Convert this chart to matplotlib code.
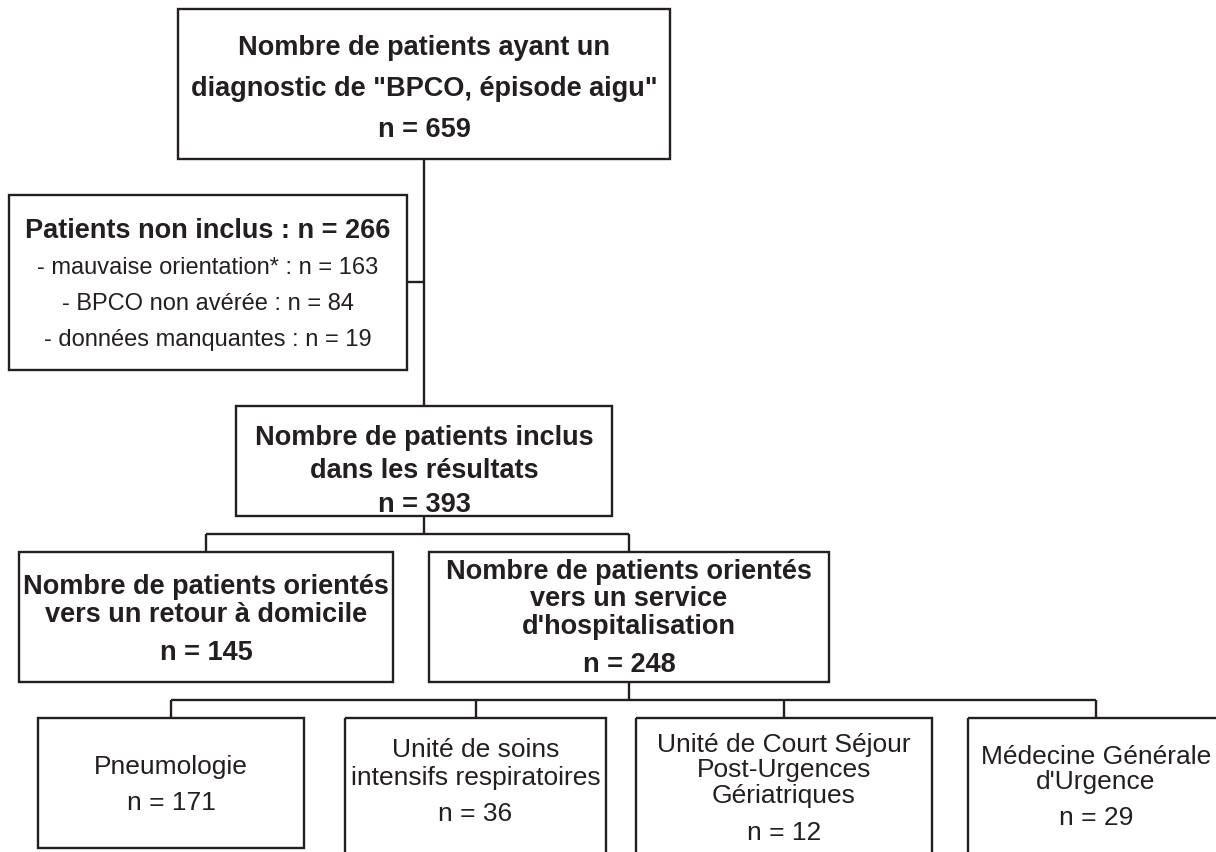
import matplotlib
matplotlib.use("Agg")
import matplotlib.pyplot as plt
from matplotlib.patches import Rectangle

plt.rcParams['font.family'] = ['Liberation Sans', 'DejaVu Sans']

# ---------------- data ----------------
total_lines = ['Nombre de patients ayant un', 'diagnostic de "BPCO, épisode aigu"']
total_n = 659
excluded_title = 'Patients non inclus'
excluded_n = 266
excluded_reasons = ['mauvaise orientation*', 'BPCO non avérée', 'données manquantes']
excluded_counts = [163, 84, 19]
included_lines = ['Nombre de patients inclus', 'dans les résultats']
included_n = 393
orientation_lines = [['Nombre de patients orientés', 'vers un retour à domicile'],
                     ['Nombre de patients orientés', 'vers un service', "d'hospitalisation"]]
orientation_n = [145, 248]
service_lines = [['Pneumologie'],
                 ['Unité de soins', 'intensifs respiratoires'],
                 ['Unité de Court Séjour', 'Post-Urgences', 'Gériatriques'],
                 ['Médecine Générale', "d'Urgence"]]
service_n = [171, 36, 12, 29]

# ---------------- layout (pixels) ----------------
W, H = 1216, 853
fig = plt.figure(figsize=(W / 100, H / 100), dpi=100)
ax = fig.add_axes([0, 0, 1, 1])
ax.set_xlim(0, W)
ax.set_ylim(H, 0)
ax.axis('off')

LW = 1.7
COL = '#231f20'


def box(x0, y0, x1, y1):
    ax.add_patch(Rectangle((x0, y0), x1 - x0, y1 - y0, fill=False,
                           lw=LW, ec=COL, joinstyle='miter', clip_on=False))


def line(xs, ys):
    ax.plot(xs, ys, color=COL, lw=LW, solid_capstyle='butt')


def txt(x, y, s, size, bold=False):
    ax.text(x, y, s, ha='center', va='center', fontsize=size,
            fontweight='bold' if bold else 'normal', color=COL)


BIG = 19.5
MID = 17
SMALL = 19

# Box 1
b1 = (178, 10, 670, 160)
box(*b1)
cx1 = (b1[0] + b1[2]) / 2
for s, y in zip(total_lines + [f'n = {total_n}'], [48, 89, 130]):
    txt(cx1, y, s, BIG, bold=True)

# Box 2 (excluded)
b2 = (9, 196, 407, 371)
box(*b2)
cx2 = (b2[0] + b2[2]) / 2
txt(cx2, 231, f'{excluded_title} : n = {excluded_n}', BIG, bold=True)
for r, c, y in zip(excluded_reasons, excluded_counts, [268, 304, 340]):
    txt(cx2, y, f'- {r} : n = {c}', MID)

# main vertical
xm = 424
b3 = (236, 407, 612, 517)
line([xm, xm], [b1[3], b3[1]])
line([b2[2], xm], [283, 283])

# Box 3
box(*b3)
for s, y in zip(included_lines + [f'n = {included_n}'], [438, 471, 505]):
    txt(xm, y, s, BIG, bold=True)

# split to orientation boxes
b4 = (19, 553, 393, 683)
b5 = (429, 553, 829, 683)
c4 = (b4[0] + b4[2]) / 2
c5 = (b5[0] + b5[2]) / 2
yc1 = 535
line([xm, xm], [b3[3], yc1])
line([c4, c5], [yc1, yc1])
line([c4, c4], [yc1, b4[1]])
line([c5, c5], [yc1, b5[1]])
box(*b4)
box(*b5)
for s, y in zip(orientation_lines[0] + [f'n = {orientation_n[0]}'], [587, 615, 653]):
    txt(c4, y, s, BIG, bold=True)
for s, y in zip(orientation_lines[1] + [f'n = {orientation_n[1]}'], [572, 599, 627, 665]):
    txt(c5, y, s, BIG, bold=True)

# services
bx = [(38, 304), (345, 606), (636, 932), (968, 1224)]
ytop = 719
ybot = [849, 870, 870, 870]
centers = [(a + b) / 2 for a, b in bx]
yc2 = 701
line([c5, c5], [b5[3], yc2])
line([centers[0], centers[-1]], [yc2, yc2])
for cx in centers:
    line([cx, cx], [yc2, ytop])
text_y = [[767, 803],
          [750, 778, 814],
          [745, 770, 796, 833],
          [757, 782, 818]]
for (a, b), yb, cx, lines_, n, ys in zip(bx, ybot, centers, service_lines, service_n, text_y):
    box(a, ytop, b, yb)
    for s, y in zip(lines_ + [f'n = {n}'], ys):
        txt(cx, y, s, SMALL)

fig.savefig('out.png', dpi=100)
